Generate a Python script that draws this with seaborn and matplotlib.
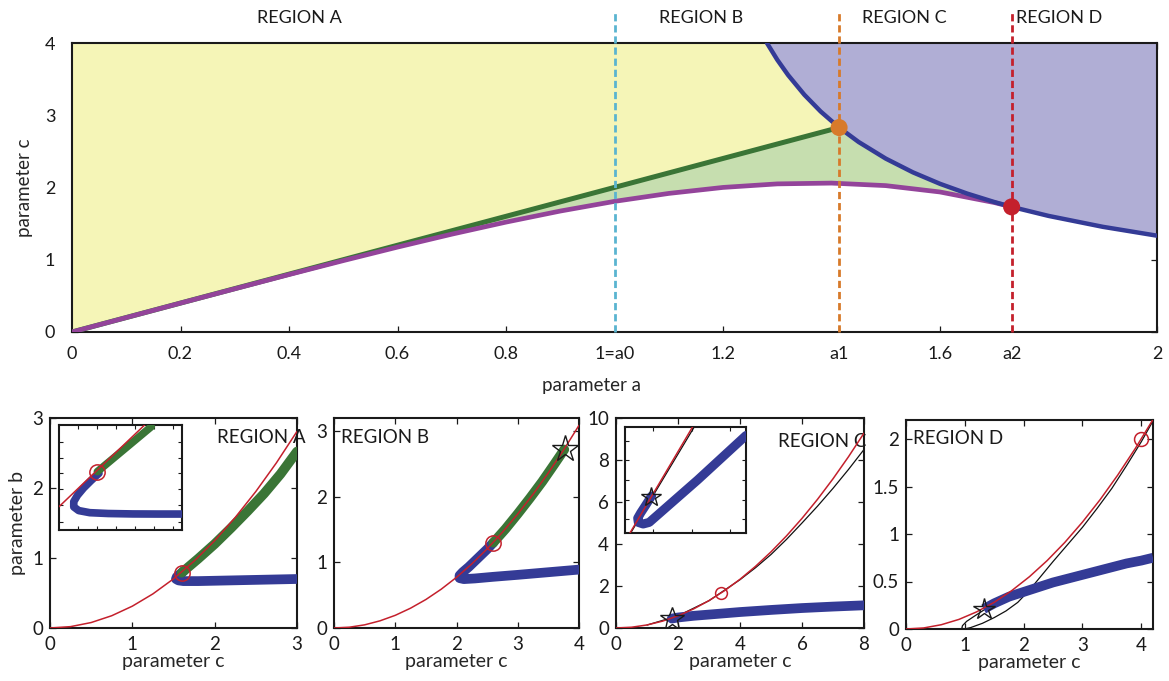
import numpy as np
import pandas as pd
import matplotlib
matplotlib.use("Agg")
import matplotlib.pyplot as plt
import seaborn as sns
from matplotlib.ticker import FixedLocator, FormatStrFormatter, NullFormatter

# ---------------- data: top panel ----------------
green_a = [0.0, 1.414]
green_c = [0.0, 2.83]
mag_a = [0.0, 0.1, 0.2, 0.3, 0.4, 0.5, 0.6, 0.7, 0.8, 0.9, 1.0, 1.1, 1.2, 1.3, 1.4, 1.5, 1.6, 1.7, 1.732]
mag_c = [0.0, 0.2, 0.4, 0.598, 0.795, 0.988, 1.175, 1.354, 1.521, 1.674, 1.808, 1.918, 2.001, 2.05, 2.061, 2.026, 1.938, 1.792, 1.732]
blue_a = [1.281, 1.30, 1.32, 1.35, 1.38, 1.414, 1.45, 1.5, 1.55, 1.6, 1.65, 1.7, 1.732, 1.8, 1.9, 2.0]
blue_c = [4.0, 3.768, 3.556, 3.283, 3.052, 2.83, 2.63, 2.4, 2.21, 2.051, 1.916, 1.799, 1.732, 1.607, 1.456, 1.333]
region_names = ["REGION A", "REGION B", "REGION C", "REGION D"]
region_a = [0.42, 1.16, 1.535, 1.82]
boundary_a = [1.0, 1.414, 1.732]
point_a = [1.414, 1.732]
point_c = [2.83, 1.732]
top_xticks = [0, 0.2, 0.4, 0.6, 0.8, 1.0, 1.2, 1.414, 1.6, 1.732, 2.0]
top_xticklabels = ["0", "0.2", "0.4", "0.6", "0.8", "1=a0", "1.2", "a1", "1.6", "a2", "2"]
top_yticks = [0, 1, 2, 3, 4]

# ---------------- data: bottom panels ----------------
# Region A
A_red_c = [0, 0.25, 0.5, 0.75, 1.0, 1.25, 1.5, 1.75, 2.0, 2.25, 2.5, 2.75, 3.0]
A_red_b = [0, 0.0195, 0.078, 0.1755, 0.312, 0.4875, 0.702, 0.9555, 1.248, 1.5795, 1.95, 2.3595, 2.808]
A_green_c = [1.6, 1.8, 2.0, 2.2, 2.4, 2.6, 2.8, 3.0]
A_green_b = [0.79, 0.99, 1.2, 1.43, 1.67, 1.92, 2.2, 2.52]
A_blue_c = [1.63, 1.58, 1.54, 1.53, 1.56, 1.62, 1.8, 2.2, 2.6, 3.0]
A_blue_b = [0.82, 0.77, 0.73, 0.70, 0.68, 0.67, 0.67, 0.68, 0.69, 0.70]
A_circle = (1.6, 0.79)
A_in_red_x = [0.0, 0.696]
A_in_red_y = [0.222, 1.0]
A_in_green_x = [0.312, 0.75]
A_in_green_y = [0.556, 0.984]
A_in_blue_x = [0.325, 0.26, 0.2, 0.15, 0.12, 0.12, 0.16, 0.25, 0.4, 0.6, 0.8, 1.0]
A_in_blue_y = [0.54, 0.47, 0.4, 0.33, 0.27, 0.22, 0.185, 0.165, 0.157, 0.153, 0.152, 0.152]
A_in_circle = (0.312, 0.556)

# Region B
B_red_c = [0, 0.25, 0.5, 0.75, 1.0, 1.25, 1.5, 1.75, 2.0, 2.25, 2.5, 2.75, 3.0, 3.25, 3.5, 3.75, 4.0]
B_red_b = [0, 0.012, 0.048, 0.109, 0.193, 0.302, 0.434, 0.591, 0.772, 0.977, 1.206, 1.459, 1.737, 2.038, 2.364, 2.714, 3.088]
B_green_c = [2.6, 2.8, 3.0, 3.2, 3.4, 3.6, 3.76]
B_green_b = [1.3, 1.51, 1.74, 1.98, 2.23, 2.5, 2.72]
B_blue_c = [2.6, 2.5, 2.4, 2.3, 2.2, 2.1, 2.05, 2.05, 2.12, 2.3, 2.6, 3.0, 3.5, 4.0]
B_blue_b = [1.3, 1.2, 1.11, 1.02, 0.93, 0.85, 0.8, 0.76, 0.745, 0.755, 0.78, 0.81, 0.85, 0.89]
B_circle = (2.6, 1.3)
B_star = (3.77, 2.73)

# Region C
C_red_c = [0, 0.5, 1.0, 1.5, 2.0, 2.5, 3.0, 3.5, 4.0, 4.5, 5.0, 5.5, 6.0, 6.5, 7.0, 7.5, 8.0]
C_red_b = [0, 0.036, 0.145, 0.326, 0.58, 0.906, 1.305, 1.776, 2.32, 2.936, 3.625, 4.386, 5.22, 6.126, 7.105, 8.156, 9.28]
C_black_c = [1.0, 2.0, 3.0, 4.0, 4.5, 5.0, 5.5, 6.0, 6.5, 7.0, 7.5, 8.0]
C_black_b = [0.14, 0.58, 1.3, 2.3, 2.87, 3.5, 4.22, 5.0, 5.8, 6.65, 7.55, 8.5]
C_blue_c = [1.8, 2.0, 2.5, 3.0, 3.5, 4.0, 5.0, 6.0, 7.0, 8.0]
C_blue_b = [0.45, 0.5, 0.58, 0.64, 0.7, 0.76, 0.86, 0.95, 1.02, 1.08]
C_circle = (3.4, 1.68)
C_star = (1.8, 0.45)
C_in_red_x = [0.041, 0.558]
C_in_red_y = [0.0, 1.0]
C_in_black_x = [0.047, 0.572]
C_in_black_y = [0.0, 1.0]
C_in_blue_x = [0.22, 0.17, 0.13, 0.105, 0.11, 0.15, 0.2, 0.4, 0.6, 0.8, 1.0]
C_in_blue_y = [0.35, 0.26, 0.19, 0.14, 0.1, 0.085, 0.1, 0.3, 0.5, 0.71, 0.92]
C_in_star = (0.213, 0.34)

# Region D
D_red_c = [0, 0.3, 0.6, 0.9, 1.2, 1.5, 1.8, 2.1, 2.4, 2.7, 3.0, 3.3, 3.6, 3.9, 4.2]
D_red_b = [0, 0.011, 0.045, 0.101, 0.18, 0.281, 0.405, 0.551, 0.72, 0.911, 1.125, 1.361, 1.62, 1.901, 2.205]
D_black_c = [1.6, 1.45, 1.3, 1.15, 1.03, 0.96, 0.95, 0.99, 1.1, 1.3, 1.5, 1.7, 1.9, 2.1, 2.3, 2.5, 2.75, 3.0, 3.25, 3.5, 3.75, 4.0, 4.2]
D_black_b = [0.31, 0.25, 0.19, 0.13, 0.08, 0.035, 0.01, 0.0, 0.015, 0.06, 0.12, 0.19, 0.28, 0.41, 0.56, 0.71, 0.89, 1.07, 1.27, 1.48, 1.72, 1.97, 2.19]
D_blue_c = [1.32, 1.5, 1.75, 2.0, 2.25, 2.5, 2.75, 3.0, 3.25, 3.5, 3.75, 4.0, 4.2]
D_blue_b = [0.21, 0.27, 0.34, 0.39, 0.44, 0.49, 0.53, 0.57, 0.61, 0.65, 0.69, 0.72, 0.75]
D_circle = (4.0, 2.0)
D_star = (1.32, 0.21)

# ---------------- styling ----------------
sns.set_theme(style="ticks")
plt.rcParams['font.family'] = ['Lato', 'DejaVu Sans']
plt.rcParams.update({
    'axes.linewidth': 1.5,
    'axes.edgecolor': '#1a1a1a',
    'xtick.direction': 'in', 'ytick.direction': 'in',
    'xtick.top': True, 'ytick.right': True,
    'xtick.major.size': 4.5, 'ytick.major.size': 4.5,
    'xtick.major.width': 0.9, 'ytick.major.width': 0.9,
    'xtick.color': '#1a1a1a', 'ytick.color': '#1a1a1a',
    'text.color': '#1a1a1a',
})

C_YEL = '#f5f5b7'
C_LGRN = '#c6deaf'
C_PURP = '#b0aed5'
C_GRN = '#3a7536'
C_MAG = '#93449a'
C_BLU = '#343b96'
C_CYAN = '#5ab4d0'
C_ORG = '#d77a2a'
C_RED = '#c4202c'

fig = plt.figure(figsize=(11.69, 6.81), dpi=100)
W, H = 1169.0, 681.0


def rect(l, t, r, b):
    return [l / W, 1 - b / H, (r - l) / W, (b - t) / H]


def line(ax, x, y, color, lw, z, cap='round'):
    df = pd.DataFrame({'x': x, 'y': y})
    sns.lineplot(data=df, x='x', y='y', sort=False, estimator=None, color=color,
                 linewidth=lw, ax=ax, zorder=z, solid_capstyle=cap, solid_joinstyle='round')


# ---------------- top panel ----------------
ax = fig.add_axes(rect(72, 43, 1157, 332))
ax.fill([0, 0] + blue_a[:6] + [0], [0, 4] + blue_c[:6] + [0], color=C_YEL, lw=0, zorder=1)
ax.fill(green_a + blue_a[5:13] + mag_a[::-1], green_c + blue_c[5:13] + mag_c[::-1],
        color=C_LGRN, lw=0, zorder=1)
ax.fill(blue_a + [2.0, blue_a[0]], blue_c + [4.0, 4.0], color=C_PURP, lw=0, zorder=1)
line(ax, green_a, green_c, C_GRN, 3.6, 3)
line(ax, mag_a, mag_c, C_MAG, 3.4, 4)
line(ax, blue_a, blue_c, C_BLU, 3.2, 4)
for xa, col in zip(boundary_a, [C_CYAN, C_ORG, C_RED]):
    ax.plot([xa, xa], [0, 4.45], color=col, lw=2.0, ls=(0, (2.6, 1.4)), clip_on=False, zorder=5)
ax.scatter(point_a, point_c, s=150, c=[C_ORG, C_RED], zorder=6, clip_on=False, linewidths=0)
for name, xa in zip(region_names, region_a):
    ax.text(xa, 4.35, name, ha='center', va='center', fontsize=13, clip_on=False)
ax.set_xlim(0, 2)
ax.set_ylim(0, 4)
ax.xaxis.set_major_locator(FixedLocator(top_xticks))
ax.set_xticklabels(top_xticklabels)
ax.yaxis.set_major_locator(FixedLocator(top_yticks))
ax.tick_params(labelsize=13)
ax.tick_params(axis='x', pad=10)
ax.tick_params(axis='y', pad=12)
ax.set_xlabel('parameter a', fontsize=13.5)
ax.set_ylabel('parameter c', fontsize=13.5)
ax.xaxis.set_label_coords(0.479, -0.155)
ax.yaxis.set_label_coords(-0.036, 0.5)
ax.set_facecolor('white')


def setup_bottom(ax, xlim, ylim, xt, yt):
    ax.set_xlim(*xlim)
    ax.set_ylim(*ylim)
    ax.xaxis.set_major_locator(FixedLocator(xt))
    ax.yaxis.set_major_locator(FixedLocator(yt))
    ax.xaxis.set_major_formatter(FormatStrFormatter('%g'))
    ax.yaxis.set_major_formatter(FormatStrFormatter('%g'))
    ax.tick_params(labelsize=13.5)
    ax.tick_params(axis='x', pad=6)
    ax.tick_params(axis='y', pad=5)
    ax.set_xlabel('parameter c', fontsize=14, labelpad=0)


def setup_inset(ax, xt, yt):
    ax.set_xlim(0, 1)
    ax.set_ylim(0, 1)
    ax.xaxis.set_major_locator(FixedLocator(xt))
    ax.yaxis.set_major_locator(FixedLocator(yt))
    ax.xaxis.set_major_formatter(NullFormatter())
    ax.yaxis.set_major_formatter(NullFormatter())
    ax.tick_params(length=3, width=0.8)
    ax.set_xlabel('')
    ax.set_ylabel('')
    for s in ax.spines.values():
        s.set_linewidth(1.5)


THIN = 1.1
THICK = 7.0

# Region A
ax1 = fig.add_axes(rect(50, 418, 297, 628))
line(ax1, A_blue_c, A_blue_b, C_BLU, THICK, 3)
line(ax1, A_green_c, A_green_b, C_GRN, THICK, 4)
line(ax1, A_red_c, A_red_b, C_RED, THIN, 5)
ax1.plot(*A_circle, 'o', ms=11, mfc='none', mec=C_RED, mew=1.1, zorder=6)
ax1.text(2.03, 2.72, 'REGION A', fontsize=13.5, va='center', ha='left')
setup_bottom(ax1, (0, 3), (0, 3), [0, 1, 2, 3], [0, 1, 2, 3])
ax1.set_ylabel('parameter b', fontsize=14, labelpad=4)

ins1 = fig.add_axes(rect(59, 425, 182, 530))
line(ins1, A_in_blue_x, A_in_blue_y, C_BLU, 5.5, 3)
line(ins1, A_in_green_x, A_in_green_y, C_GRN, 5.5, 4)
line(ins1, A_in_red_x, A_in_red_y, C_RED, THIN, 5)
ins1.plot(*A_in_circle, 'o', ms=11, mfc='none', mec=C_RED, mew=1.1, zorder=6)
setup_inset(ins1, [0.155, 0.31, 0.465, 0.62, 0.775, 0.93], [0.08, 0.24, 0.39, 0.54, 0.69, 0.84])

# Region B
ax2 = fig.add_axes(rect(334, 418, 579, 628))
line(ax2, B_blue_c, B_blue_b, C_BLU, THICK, 3)
line(ax2, B_green_c, B_green_b, C_GRN, THICK, 4)
line(ax2, B_red_c, B_red_b, C_RED, THIN, 5)
ax2.plot(*B_circle, 'o', ms=11, mfc='none', mec=C_RED, mew=1.1, zorder=6)
ax2.plot(*B_star, '*', ms=20, mfc='none', mec='#1a1a1a', mew=1.0, zorder=7)
ax2.text(0.12, 2.91, 'REGION B', fontsize=13.5, va='center', ha='left')
setup_bottom(ax2, (0, 4), (0, 3.2), [0, 1, 2, 3, 4], [0, 1, 2, 3])
ax2.set_ylabel('')

# Region C
ax3 = fig.add_axes(rect(616, 418, 864, 628))
line(ax3, C_black_c, C_black_b, '#111111', 0.9, 2)
line(ax3, C_blue_c, C_blue_b, C_BLU, THICK, 3)
line(ax3, C_red_c, C_red_b, C_RED, THIN, 5)
ax3.plot(*C_circle, 'o', ms=8.5, mfc='none', mec=C_RED, mew=1.1, zorder=6)
ax3.plot(*C_star, '*', ms=18, mfc='none', mec='#1a1a1a', mew=1.0, zorder=7)
ax3.text(5.23, 8.9, 'REGION C', fontsize=13.5, va='center', ha='left', zorder=1)
setup_bottom(ax3, (0, 8), (0, 10), [0, 2, 4, 6, 8], [0, 2, 4, 6, 8, 10])
ax3.set_ylabel('')

ins3 = fig.add_axes(rect(625, 427, 746, 533))
line(ins3, C_in_black_x, C_in_black_y, '#111111', 0.9, 2)
line(ins3, C_in_blue_x, C_in_blue_y, C_BLU, 6.5, 3)
line(ins3, C_in_red_x, C_in_red_y, C_RED, THIN, 5)
ins3.plot(*C_in_star, '*', ms=15, mfc='none', mec='#1a1a1a', mew=1.0, zorder=7)
setup_inset(ins3, [0.235, 0.55, 0.87], [0.13, 0.31, 0.5, 0.69, 0.87])

# Region D
ax4 = fig.add_axes(rect(906, 420, 1153, 629))
line(ax4, D_black_c, D_black_b, '#111111', 0.9, 2)
line(ax4, D_blue_c, D_blue_b, C_BLU, THICK, 3, cap='butt')
line(ax4, D_red_c, D_red_b, C_RED, THIN, 5)
ax4.plot(*D_circle, 'o', ms=10, mfc='none', mec=C_RED, mew=1.1, zorder=6)
ax4.plot(*D_star, '*', ms=16, mfc='none', mec='#1a1a1a', mew=1.0, zorder=7)
ax4.text(0.12, 2.0, 'REGION D', fontsize=13.5, va='center', ha='left')
setup_bottom(ax4, (0, 4.2), (0, 2.2), [0, 1, 2, 3, 4], [0, 0.5, 1, 1.5, 2])
ax4.set_ylabel('')

fig.savefig('out.png', dpi=100)
